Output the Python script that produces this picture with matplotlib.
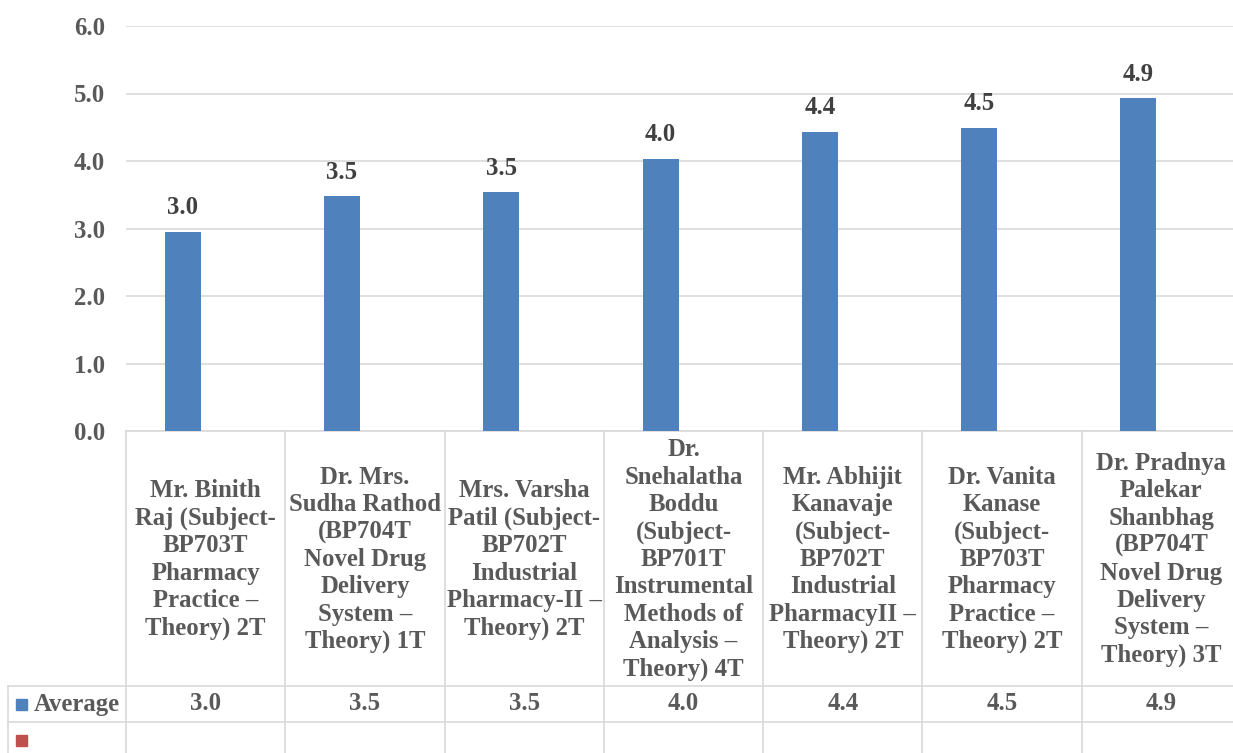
import matplotlib.pyplot as plt
from matplotlib.lines import Line2D
from matplotlib.patches import Rectangle
from matplotlib.transforms import blended_transform_factory

# ----------------------------
# Data
# ----------------------------

teachers = [
    "Mr. Binith\nRaj (Subject-\nBP703T\nPharmacy\nPractice –\nTheory) 2T",
    "Dr. Mrs.\nSudha Rathod\n(BP704T\nNovel Drug\nDelivery\nSystem –\nTheory) 1T",
    "Mrs. Varsha\nPatil (Subject-\nBP702T\nIndustrial\nPharmacy-II –\nTheory) 2T",
    "Dr.\nSnehalatha\nBoddu\n(Subject-\nBP701T\nInstrumental\nMethods of\nAnalysis –\nTheory) 4T",
    "Mr. Abhijit\nKanavaje\n(Subject-\nBP702T\nIndustrial\nPharmacyII –\nTheory) 2T",
    "Dr. Vanita\nKanase\n(Subject-\nBP703T\nPharmacy\nPractice –\nTheory) 2T",
    "Dr. Pradnya\nPalekar\nShanbhag\n(BP704T\nNovel Drug\nDelivery\nSystem –\nTheory) 3T",
]
average = [2.95, 3.48, 3.54, 4.03, 4.43, 4.49, 4.93]
series_name = "Average"

# ----------------------------
# Figure layout (pixels)
# ----------------------------

W, H = 1233, 753
plt.rcParams["font.family"] = ["Liberation Serif", "DejaVu Serif"]
plt.rcParams["font.weight"] = "bold"

fig = plt.figure(figsize=(W / 100, H / 100), dpi=100)

def fx(px):
    return px / W

def fy(py):
    return 1 - py / H

ax_left, ax_right = 126, 1241
y_zero, y_top = 431, 26
ax = fig.add_axes([fx(ax_left), fy(y_zero), fx(ax_right - ax_left), fy(y_top) - fy(y_zero)])

fs = 17.8
grid_c = "#D9D9D9"
text_c = "#595959"
blue = "#4F81BD"
red = "#C0504D"

x = list(range(len(average)))
ax.bar([i - 0.144 for i in x], average, width=0.226, color=blue, zorder=3)

for i, v in enumerate(average):
    ax.annotate(f"{v:.1f}", (i - 0.144, v), xytext=(0, 9), textcoords="offset points",
                ha="center", va="bottom", fontsize=fs, fontweight="bold", color="#404040")

ax.set_xlim(-0.5, len(average) - 0.5)
ax.set_ylim(0, 6)
ax.set_yticks([0, 1, 2, 3, 4, 5, 6])
ax.set_yticklabels([f"{t:.1f}" for t in range(7)], fontsize=fs, fontweight="bold", color=text_c)
ax.set_xticks([])
ax.tick_params(axis="y", length=0, pad=15)
ax.grid(axis="y", color=grid_c, linewidth=1.2, zorder=0)
for s in ["left", "right", "top"]:
    ax.spines[s].set_visible(False)
ax.spines["bottom"].set_color(grid_c)
ax.spines["bottom"].set_linewidth(1.2)

# ----------------------------
# Data table under the chart
# ----------------------------

row1, row2, row3 = 686, 722, 760
trans = blended_transform_factory(ax.transData, fig.transFigure)

for y in [row1, row2, row3]:
    fig.add_artist(Line2D([fx(8), 1], [fy(y), fy(y)], color=grid_c, lw=1.2))
fig.add_artist(Line2D([fx(8), fx(8)], [fy(row1), fy(row3)], color=grid_c, lw=1.2))
for i in range(len(average) + 1):
    fig.add_artist(Line2D([i - 0.5, i - 0.5], [fy(y_zero), fy(row3)], color=grid_c, lw=1.2,
                          transform=trans))

for i, name in enumerate(teachers):
    fig.text(i, fy((y_zero + row1) / 2 + 1), name, transform=trans, ha="center", va="center",
             ma="center", fontsize=fs, fontweight="bold", color=text_c, linespacing=1.24)
    fig.text(i, fy((row1 + row2) / 2), f"{average[i]:.1f}", transform=trans, ha="center",
             va="center", fontsize=fs, fontweight="bold", color=text_c)

fig.add_artist(Rectangle((fx(16), fy(710)), fx(11), fy(699) - fy(710), color=blue,
                         transform=fig.transFigure))
fig.text(fx(34), fy((row1 + row2) / 2), series_name, ha="left", va="center",
         fontsize=fs, fontweight="bold", color=text_c)
fig.add_artist(Rectangle((fx(16), fy(746)), fx(11), fy(735) - fy(746), color=red,
                         transform=fig.transFigure))

fig.savefig("out.png", dpi=100)
